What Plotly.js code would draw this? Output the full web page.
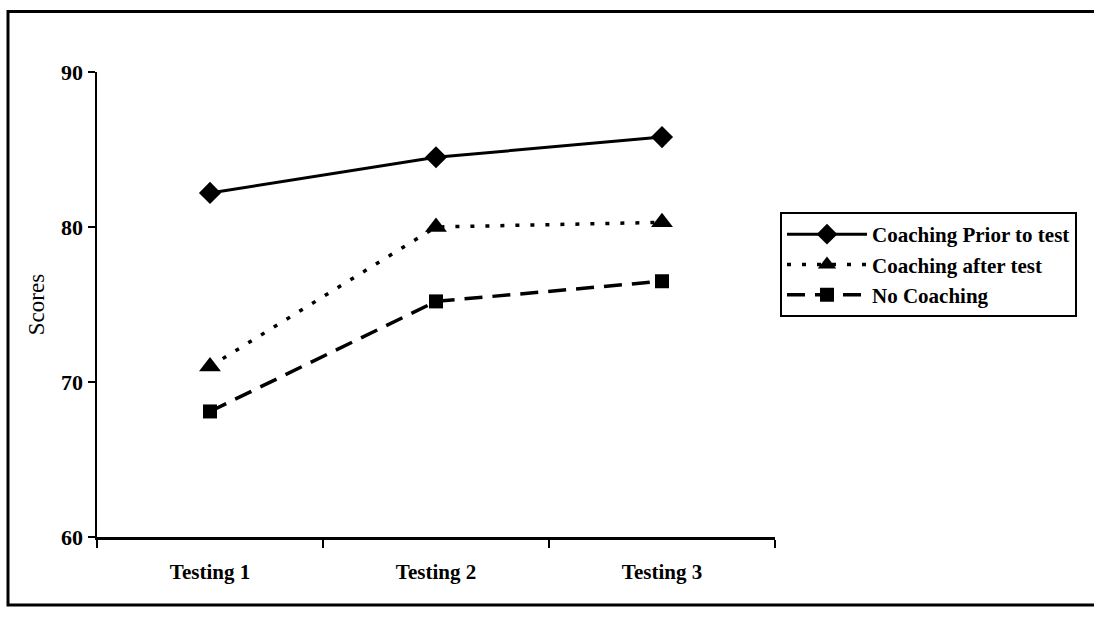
<!DOCTYPE html>
<html>
<head>
<meta charset="utf-8">
<script src="https://cdn.plot.ly/plotly-3.0.1.min.js"></script>
<style>
  html, body { margin: 0; padding: 0; background: #ffffff; }
  #chart { width: 1094px; height: 618px; }
</style>
</head>
<body>
<div id="chart"></div>
<script>
// ---- data ----
const categories = ["Testing 1", "Testing 2", "Testing 3"];
const seriesNames = ["Coaching Prior to test", "Coaching after test", "No Coaching"];
const priorScores = [82.2, 84.5, 85.8];
const afterScores = [71.0, 80.0, 80.3];
const noCoachingScores = [68.1, 75.2, 76.5];
const yTickValues = [60, 70, 80, 90];

const FONT = "Liberation Serif, 'Times New Roman', Times, serif";

const traces = [
  {
    x: categories, y: priorScores, name: seriesNames[0], type: "scatter", mode: "lines+markers",
    line: { color: "#000", width: 3, dash: "solid" },
    marker: { symbol: "diamond", size: 17, color: "#000" },
    legendgroup: "a"
  },
  {
    x: categories, y: afterScores, name: seriesNames[1], type: "scatter", mode: "lines+markers",
    line: { color: "#000", width: 3.5, dash: "4px,11px" },
    marker: { symbol: "triangle-up", size: 19, color: "#000" },
    legendgroup: "b"
  },
  {
    x: categories, y: noCoachingScores, name: seriesNames[2], type: "scatter", mode: "lines+markers",
    line: { color: "#000", width: 3.5, dash: "18px,10px" },
    marker: { symbol: "square", size: 14, color: "#000" },
    legendgroup: "c"
  }
];

const layout = {
  width: 1094, height: 618,
  paper_bgcolor: "#fff", plot_bgcolor: "#fff",
  margin: { l: 97, r: 319, t: 72, b: 81, pad: 0 },
  font: { family: FONT, color: "#000", size: 21 },
  showlegend: true,
  legend: {
    xref: "container", yref: "container",
    x: 780 / 1094, y: 1 - 212 / 618, xanchor: "left", yanchor: "top",
    bordercolor: "#000", borderwidth: 2, bgcolor: "#fff",
    font: { family: FONT, size: 21, color: "#000", weight: "bold" },
    itemwidth: 80, traceorder: "grouped", tracegroupgap: 0
  },
  xaxis: {
    type: "category", range: [-0.5, 2.5], fixedrange: true,
    showline: true, linecolor: "#000", linewidth: 2.5,
    ticks: "outside", tickson: "boundaries", ticklen: 8, tickwidth: 2.5, tickcolor: "#000",
    showgrid: false, zeroline: false,
    tickfont: { family: FONT, size: 21, color: "#000", weight: "bold" },
    ticklabelstandoff: 14
  },
  yaxis: {
    range: [60, 90], tickvals: yTickValues, fixedrange: true,
    showline: true, linecolor: "#000", linewidth: 2.5,
    ticks: "outside", ticklen: 7, tickwidth: 2.5, tickcolor: "#000",
    showgrid: false, zeroline: false,
    tickfont: { family: FONT, size: 22, color: "#000", weight: "bold" },
    title: { text: "Scores", font: { family: FONT, size: 23, color: "#000" }, standoff: 10 },
    automargin: false
  },
  shapes: [
    {
      type: "rect", xref: "paper", yref: "paper",
      x0: (8 - 97) / 678, x1: (1110 - 97) / 678,
      y0: (537 - 605) / 464.5, y1: (537 - 12) / 464.5,
      line: { color: "#000", width: 3 }, fillcolor: "rgba(0,0,0,0)", layer: "below"
    }
  ]
};

Plotly.newPlot("chart", traces, layout, { displayModeBar: false, staticPlot: true });
</script>
</body>
</html>
